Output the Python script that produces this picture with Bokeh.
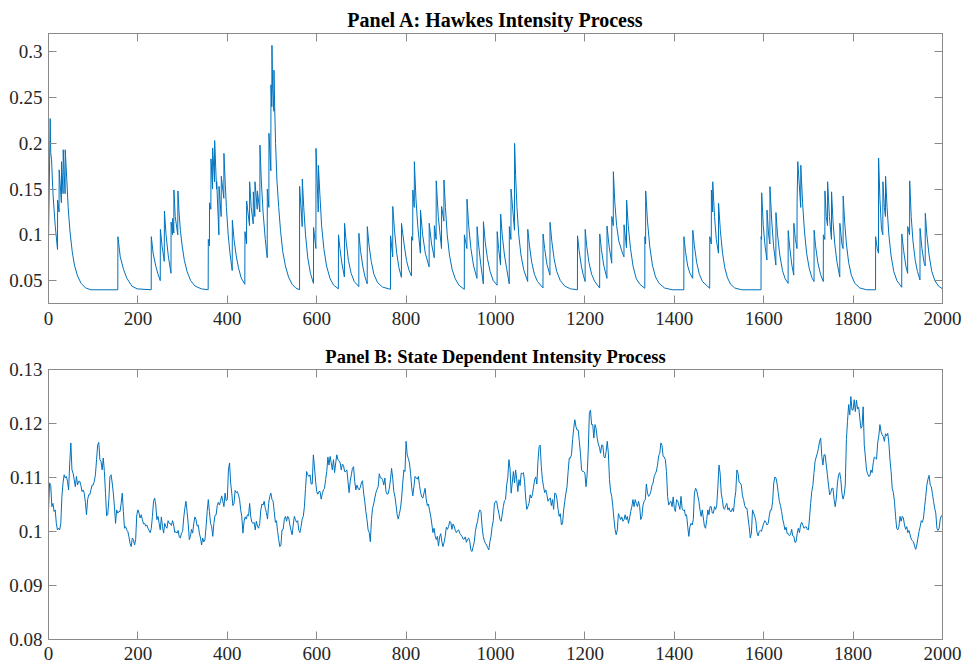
from bokeh.plotting import figure
from bokeh.models import Range1d, LinearAxis, FixedTicker, NumeralTickFormatter
from bokeh.layouts import column
from bokeh.embed import file_html
from bokeh.resources import INLINE

# ---------------- Panel A: Hawkes intensity (time, intensity)
hawkes_t = [
    0, 3.8, 5, 6.8, 10, 15, 20.2, 20.4, 23.6, 23.9, 28.9, 29.2, 32.6, 32.9, 37.1, 37.4, 41, 44, 48, 53, 58, 65, 73, 83, 95, 155,
    155.3, 160.5, 168, 175.4, 186.6, 198, 229.8, 230, 234, 240, 245, 250, 250.3, 254, 259, 259.3, 263, 268, 274, 274.3, 277.5, 277.8,
    280.3, 280.6, 283.5, 289.2, 289.5, 292, 295, 299, 304, 310, 318, 328, 342, 357.2,
    357.5, 360, 360.3, 363.2, 363.5, 367, 367.2, 371.4, 371.7, 376, 376.3, 381.2, 381.5, 386.3, 386.6, 392.2, 392.5, 395, 398, 402,
    406, 411, 411.3, 415, 420, 425, 431, 439.2, 439.5, 443, 443.3, 449.7, 450, 453.5, 458, 458.2, 461.6, 461.9, 467, 467.3, 472.8,
    473.1, 476, 480, 485, 489.3, 489.5, 493, 493.2, 497.4, 497.7, 499.6, 499.9, 501.5, 504.1, 504.4, 506, 508, 511, 515, 519, 524,
    530, 537, 545, 553, 561.6,
    561.8, 567.6, 567.8, 571, 575, 580, 586, 592.8, 593, 598.2,
    598.5, 603.5, 603.8, 607, 611, 616, 622, 630, 638, 648.5,
    648.7, 652, 656, 662, 662.3, 666, 671, 677, 684, 694.2,
    694.4, 698, 703, 708, 713, 713.2, 717, 722, 728, 736,
    747, 765, 765.3, 770, 770.2, 774, 779, 784, 789.5, 789.7,
    796, 801, 806, 812, 812.2, 814.8, 815, 818.3, 818.5, 822,
    826, 832, 832.2, 837, 843, 851.5, 851.7, 857, 863, 863.2,
    867.2, 867.4, 872, 879.2, 879.4, 884.5, 884.7, 888, 892, 897,
    903, 910, 918, 930.2, 930.4, 936.1, 936.3, 940, 945, 951,
    958.6, 958.8, 962, 967, 972.8, 973, 977, 982, 988, 995,
    1003.6, 1003.8, 1007, 1011.3, 1011.5, 1015, 1020, 1025, 1030.7, 1031,
    1034.5, 1034.8, 1042.5, 1042.7, 1045, 1048, 1052, 1057, 1063, 1072,
    1072.2, 1076, 1081, 1087, 1094, 1106.2, 1106.4, 1110, 1115, 1121.8,
    1122, 1126, 1131, 1137, 1145, 1155, 1168, 1183.3,
    1183.5, 1187, 1192, 1196, 1200.5, 1200.7, 1204, 1209, 1215, 1222,
    1233, 1233.2, 1237, 1242, 1249.3, 1249.5, 1254, 1260, 1260.2, 1263.5,
    1263.7, 1267, 1271, 1276, 1284, 1287.4, 1287.6, 1293, 1293.3, 1297,
    1302, 1308, 1315, 1323, 1334, 1334.2, 1335.8, 1336, 1340, 1345,
    1351, 1358, 1366, 1378, 1395, 1421.3, 1421.5, 1425, 1430, 1435,
    1441.2, 1441.4, 1445, 1450, 1456, 1463, 1479.2, 1479.4, 1482.8, 1483,
    1485.8, 1486, 1490, 1494, 1498.8, 1499, 1503, 1508, 1513, 1519,
    1526, 1535, 1550, 1594,
    1594.2, 1595.3, 1595.5, 1599, 1603, 1607.2, 1607.4, 1611, 1613.8, 1614,
    1618, 1622, 1627.2, 1627.4, 1631, 1636, 1642, 1648, 1654.6, 1654.8,
    1658, 1663, 1667.2, 1667.4, 1671, 1674.5, 1674.7, 1676.3, 1682.8, 1683,
    1687, 1691, 1696, 1702, 1708, 1712.6, 1712.8, 1716, 1721, 1727,
    1733.3, 1733.5, 1736.8, 1737, 1740, 1742.8, 1743, 1747, 1751.6, 1751.8,
    1755, 1759, 1764, 1770.2, 1770.4, 1775, 1777.6, 1777.8, 1781, 1785,
    1790, 1796, 1804, 1815, 1830, 1850.2, 1850.4, 1854, 1856.8, 1857,
    1860, 1863.5, 1866.5, 1866.7, 1870, 1872.4, 1872.6, 1876, 1880, 1885,
    1891, 1898, 1908.8, 1909, 1913, 1918, 1922, 1922.2, 1926.4, 1926.6,
    1930, 1934, 1939, 1944, 1949.6, 1949.8, 1954, 1959, 1961.3, 1961.5,
    1965, 1970, 1976, 1983, 1991, 2000,
]
hawkes_y = [
    0.095, 0.227, 0.19, 0.182, 0.145, 0.11, 0.084, 0.138, 0.125, 0.171, 0.135, 0.18, 0.145, 0.193, 0.145, 0.193, 0.16, 0.13, 0.104,
    0.082, 0.067, 0.055, 0.047, 0.042, 0.04, 0.04,
    0.098, 0.076, 0.062, 0.0525, 0.044, 0.041, 0.04, 0.098, 0.08, 0.066, 0.057, 0.05, 0.106, 0.088, 0.071, 0.126, 0.1, 0.077, 0.058,
    0.114, 0.1, 0.118, 0.102, 0.149, 0.12, 0.1, 0.148, 0.125, 0.105, 0.088, 0.072, 0.06, 0.05, 0.044, 0.041, 0.04,
    0.095, 0.088, 0.135, 0.128, 0.183, 0.15, 0.195, 0.158, 0.203, 0.15, 0.158, 0.1, 0.153, 0.12, 0.164, 0.14, 0.189, 0.16, 0.13, 0.1,
    0.08, 0.061, 0.116, 0.095, 0.077, 0.064, 0.053, 0.046, 0.1035, 0.09, 0.137, 0.11, 0.158, 0.13, 0.112, 0.147, 0.12, 0.158, 0.128,
    0.148, 0.125, 0.198, 0.16, 0.125, 0.095, 0.075, 0.15, 0.13, 0.211, 0.17, 0.264, 0.24, 0.307, 0.26, 0.235, 0.28, 0.24, 0.2, 0.16,
    0.13, 0.105, 0.082, 0.066, 0.054, 0.046, 0.042, 0.04,
    0.153, 0.109, 0.161, 0.13, 0.1, 0.075, 0.058, 0.047, 0.108, 0.085,
    0.1945, 0.125, 0.176, 0.145, 0.11, 0.085, 0.066, 0.052, 0.045, 0.041,
    0.1, 0.085, 0.07, 0.054, 0.1126, 0.092, 0.072, 0.058, 0.049, 0.0434,
    0.1017, 0.083, 0.066, 0.054, 0.0465, 0.109, 0.089, 0.071, 0.057, 0.048,
    0.043, 0.0405, 0.099, 0.076, 0.131, 0.105, 0.08, 0.064, 0.0536, 0.1126,
    0.088, 0.072, 0.062, 0.055, 0.098, 0.094, 0.149, 0.13, 0.18, 0.14,
    0.11, 0.08, 0.127, 0.1, 0.08, 0.065, 0.1126, 0.09, 0.075, 0.11,
    0.095, 0.159, 0.12, 0.085, 0.131, 0.115, 0.16, 0.13, 0.1, 0.078,
    0.062, 0.052, 0.045, 0.0405, 0.1, 0.085, 0.139, 0.11, 0.085, 0.066,
    0.0525, 0.109, 0.09, 0.068, 0.0465, 0.1144, 0.092, 0.074, 0.06, 0.05,
    0.045, 0.1035, 0.085, 0.067, 0.1228, 0.1, 0.078, 0.063, 0.0465, 0.109,
    0.095, 0.15, 0.105, 0.2, 0.165, 0.13, 0.1, 0.078, 0.062, 0.049,
    0.106, 0.088, 0.07, 0.057, 0.049, 0.042, 0.101, 0.085, 0.068, 0.056,
    0.1137, 0.093, 0.074, 0.06, 0.05, 0.044, 0.041, 0.04,
    0.099, 0.083, 0.066, 0.057, 0.049, 0.106, 0.088, 0.07, 0.057, 0.049,
    0.042, 0.101, 0.084, 0.067, 0.0525, 0.1097, 0.088, 0.069, 0.12, 0.11,
    0.169, 0.135, 0.11, 0.093, 0.08, 0.076, 0.111, 0.086, 0.138, 0.11,
    0.085, 0.065, 0.052, 0.046, 0.0416, 0.098, 0.09, 0.148, 0.115, 0.088,
    0.067, 0.054, 0.047, 0.042, 0.04, 0.04, 0.098, 0.082, 0.066, 0.058,
    0.0525, 0.105, 0.088, 0.07, 0.057, 0.049, 0.0416, 0.098, 0.09, 0.149,
    0.125, 0.158, 0.12, 0.095, 0.08, 0.1345, 0.105, 0.08, 0.064, 0.053,
    0.046, 0.042, 0.04, 0.04,
    0.098, 0.095, 0.146, 0.11, 0.088, 0.0726, 0.127, 0.1, 0.09, 0.1527,
    0.115, 0.088, 0.067, 0.1243, 0.1, 0.078, 0.061, 0.052, 0.047, 0.1046,
    0.087, 0.067, 0.056, 0.1126, 0.095, 0.085, 0.135, 0.18, 0.13, 0.176,
    0.135, 0.105, 0.08, 0.063, 0.053, 0.049, 0.105, 0.088, 0.07, 0.057,
    0.049, 0.1, 0.095, 0.148, 0.12, 0.11, 0.158, 0.12, 0.095, 0.147,
    0.115, 0.09, 0.07, 0.054, 0.1126, 0.09, 0.085, 0.1425, 0.115, 0.09,
    0.07, 0.056, 0.047, 0.042, 0.04, 0.04, 0.098, 0.085, 0.08, 0.184,
    0.14, 0.106, 0.1, 0.158, 0.13, 0.12, 0.164, 0.13, 0.1, 0.077,
    0.06, 0.05, 0.0427, 0.101, 0.083, 0.066, 0.058, 0.109, 0.1, 0.159,
    0.12, 0.093, 0.072, 0.06, 0.0507, 0.107, 0.085, 0.069, 0.066, 0.1235,
    0.1, 0.078, 0.06, 0.05, 0.044, 0.041,
]

# ---------------- Panel B: state dependent intensity
# values read at t = 0, 5, 10, ..., 2000
state_grid_y = [
    0.1040, 0.1085, 0.1052, 0.1040, 0.1003, 0.1003, 0.1065, 0.1105, 0.1102, 0.1077,
    0.1164, 0.1108, 0.1083, 0.1086, 0.1093, 0.1074, 0.1071, 0.1031, 0.1068, 0.1077,
    0.1086, 0.1105, 0.1160, 0.1133, 0.1114, 0.1111, 0.1029, 0.1059, 0.1105, 0.1071,
    0.1015, 0.1034, 0.1037, 0.1071, 0.1006, 0.1003, 0.0990, 0.0972, 0.0985, 0.0985,
    0.1040, 0.1025, 0.1022, 0.1015, 0.1012, 0.1002, 0.1006, 0.1056, 0.1049, 0.1028,
    0.1003, 0.1009, 0.1015, 0.1006, 0.1015, 0.1011, 0.1012, 0.1000, 0.1002, 0.0988,
    0.1000, 0.1043, 0.1037, 0.0985, 0.1004, 0.1015, 0.1022, 0.1012, 0.0988, 0.0988,
    0.0985, 0.1037, 0.1037, 0.1009, 0.1015, 0.1031, 0.1054, 0.1057, 0.1056, 0.1071,
    0.1059, 0.1127, 0.1071, 0.1052, 0.1072, 0.1068, 0.1040, 0.0997, 0.1027, 0.1031,
    0.1052, 0.1017, 0.1017, 0.1019, 0.1006, 0.1040, 0.1049, 0.1043, 0.1023, 0.1065,
    0.1059, 0.1037, 0.1020, 0.0985, 0.0975, 0.1004, 0.1028, 0.1028, 0.1012, 0.0994,
    0.1028, 0.1017, 0.1002, 0.1009, 0.1028, 0.1080, 0.1105, 0.1105, 0.1088, 0.1120,
    0.1074, 0.1074, 0.1060, 0.1077, 0.1096, 0.1138, 0.1139, 0.1114, 0.1109, 0.1142,
    0.1131, 0.1114, 0.1122, 0.1111, 0.1093, 0.1093, 0.1117, 0.1093, 0.1086, 0.1077,
    0.1090, 0.1071, 0.1037, 0.1003, 0.0981, 0.1043, 0.1062, 0.1078, 0.1107, 0.1099,
    0.1086, 0.1074, 0.1070, 0.1096, 0.1099, 0.1065, 0.1031, 0.1033, 0.1062, 0.1114,
    0.1167, 0.1135, 0.1108, 0.1066, 0.1102, 0.1097, 0.1085, 0.1064, 0.1071, 0.1060,
    0.1051, 0.1029, 0.0998, 0.0992, 0.0991, 0.0990, 0.0981, 0.0980, 0.1008, 0.1009,
    0.1017, 0.1014, 0.1002, 0.1002, 0.0997, 0.0991, 0.0986, 0.0980, 0.0988, 0.0965,
    0.0972, 0.1000, 0.1019, 0.1040, 0.1009, 0.0983, 0.0975, 0.0966, 0.0991, 0.1020,
    0.1056, 0.1043, 0.1022, 0.1031, 0.1057, 0.1086, 0.1133, 0.1071, 0.1111, 0.1114,
    0.1074, 0.1085, 0.1107, 0.1093, 0.1041, 0.1052, 0.1062, 0.1082, 0.1101, 0.1130,
    0.1160, 0.1096, 0.1072, 0.1068, 0.1060, 0.1048, 0.1041, 0.1070, 0.1041, 0.1033,
    0.1015, 0.1056, 0.1083, 0.1136, 0.1142, 0.1191, 0.1194, 0.1188, 0.1145, 0.1111,
    0.1108, 0.1105, 0.1219, 0.1198, 0.1173, 0.1191, 0.1162, 0.1145, 0.1160, 0.1136,
    0.1167, 0.1096, 0.1065, 0.1023, 0.0994, 0.1033, 0.1022, 0.1019, 0.1031, 0.1028,
    0.1025, 0.1046, 0.1046, 0.1052, 0.1056, 0.1022, 0.1049, 0.1059, 0.1071, 0.1068,
    0.1085, 0.1102, 0.1112, 0.1140, 0.1164, 0.1139, 0.1133, 0.1065, 0.1054, 0.1046,
    0.1043, 0.1059, 0.1049, 0.1065, 0.1039, 0.1029, 0.1009, 0.1009, 0.1012, 0.1071,
    0.1077, 0.1056, 0.1028, 0.1025, 0.1006, 0.1040, 0.1046, 0.1034, 0.1046, 0.1049,
    0.1123, 0.1071, 0.1043, 0.1048, 0.1040, 0.1037, 0.1043, 0.1059, 0.1114, 0.1091,
    0.1086, 0.1059, 0.1043, 0.1025, 0.0988, 0.1040, 0.1028, 0.0998, 0.1000, 0.1000,
    0.1015, 0.1017, 0.1015, 0.1040, 0.1056, 0.1101, 0.1088, 0.1056, 0.1037, 0.1014,
    0.1008, 0.0996, 0.0994, 0.0992, 0.0980, 0.0997, 0.0998, 0.1017, 0.1006, 0.1009,
    0.1003, 0.1052, 0.1085, 0.1130, 0.1145, 0.1167, 0.1139, 0.1142, 0.1123, 0.1086,
    0.1072, 0.1080, 0.1046, 0.1090, 0.1109, 0.1071, 0.1068, 0.1170, 0.1235, 0.1250,
    0.1225, 0.1222, 0.1227, 0.1210, 0.1194, 0.1160, 0.1114, 0.1102, 0.1114, 0.1127,
    0.1136, 0.1164, 0.1198, 0.1179, 0.1167, 0.1177, 0.1164, 0.1111, 0.1072, 0.1028,
    0.1003, 0.1028, 0.1028, 0.1012, 0.1009, 0.1002, 0.0986, 0.0981, 0.0967, 0.0988,
    0.1009, 0.1017, 0.1046, 0.1086, 0.1104, 0.1083, 0.1056, 0.1034, 0.1002, 0.1023,
    0.1031,
]
# values read at t = 2.5, 7.5, ..., 1997.5
state_mid_y = [
    0.1090, 0.1046, 0.1037, 0.1015, 0.1006, 0.1015, 0.1090, 0.1099, 0.1093, 0.1127,
    0.1114, 0.1096, 0.1102, 0.1093, 0.1085, 0.1077, 0.1054, 0.1059, 0.1068, 0.1086,
    0.1093, 0.1133, 0.1165, 0.1130, 0.1136, 0.1071, 0.1031, 0.1102, 0.1090, 0.1046,
    0.1040, 0.1037, 0.1052, 0.1037, 0.1009, 0.1000, 0.0978, 0.0988, 0.0975, 0.1031,
    0.1034, 0.1031, 0.1014, 0.1010, 0.1006, 0.0998, 0.1028, 0.1062, 0.1022, 0.1015,
    0.1027, 0.0997, 0.1009, 0.1020, 0.1015, 0.1020, 0.0998, 0.0997, 0.0990, 0.0997,
    0.1025, 0.1056, 0.1015, 0.0991, 0.0997, 0.1027, 0.1010, 0.0997, 0.0975, 0.0981,
    0.1009, 0.1059, 0.1015, 0.0991, 0.1030, 0.1048, 0.1049, 0.1066, 0.1046, 0.1057,
    0.1114, 0.1090, 0.1048, 0.1076, 0.1074, 0.1059, 0.1027, 0.1019, 0.1023, 0.1029,
    0.1027, 0.1015, 0.1003, 0.1010, 0.1015, 0.1051, 0.1056, 0.1035, 0.1052, 0.1071,
    0.1056, 0.1017, 0.1000, 0.0972, 0.1003, 0.1022, 0.1019, 0.1025, 0.1002, 0.1012,
    0.1022, 0.1020, 0.0998, 0.1023, 0.1046, 0.1111, 0.1102, 0.1088, 0.1142, 0.1093,
    0.1069, 0.1074, 0.1070, 0.1080, 0.1111, 0.1123, 0.1127, 0.1133, 0.1127, 0.1133,
    0.1127, 0.1125, 0.1111, 0.1114, 0.1072, 0.1105, 0.1120, 0.1077, 0.1080, 0.1082,
    0.1094, 0.1056, 0.1022, 0.0998, 0.1022, 0.1051, 0.1072, 0.1083, 0.1099, 0.1096,
    0.1099, 0.1069, 0.1080, 0.1117, 0.1074, 0.1049, 0.1023, 0.1043, 0.1090, 0.1111,
    0.1142, 0.1127, 0.1082, 0.1083, 0.1099, 0.1102, 0.1072, 0.1062, 0.1080, 0.1048,
    0.1039, 0.1014, 0.1006, 0.0985, 0.0973, 0.0996, 0.0972, 0.0991, 0.1004, 0.1019,
    0.1004, 0.1010, 0.0998, 0.1003, 0.0994, 0.0986, 0.0990, 0.0986, 0.0981, 0.0963,
    0.0981, 0.1012, 0.1034, 0.1037, 0.0991, 0.0978, 0.0970, 0.0981, 0.1009, 0.1051,
    0.1056, 0.1034, 0.1019, 0.1046, 0.1059, 0.1100, 0.1117, 0.1090, 0.1090, 0.1096,
    0.1096, 0.1108, 0.1109, 0.1062, 0.1046, 0.1068, 0.1068, 0.1096, 0.1088, 0.1157,
    0.1120, 0.1083, 0.1077, 0.1056, 0.1062, 0.1059, 0.1071, 0.1060, 0.1028, 0.1012,
    0.1040, 0.1071, 0.1111, 0.1136, 0.1170, 0.1207, 0.1188, 0.1167, 0.1114, 0.1111,
    0.1083, 0.1151, 0.1225, 0.1198, 0.1198, 0.1173, 0.1156, 0.1160, 0.1139, 0.1148,
    0.1145, 0.1074, 0.1046, 0.1004, 0.1003, 0.1028, 0.1027, 0.1022, 0.1022, 0.1015,
    0.1037, 0.1059, 0.1059, 0.1046, 0.1046, 0.1028, 0.1056, 0.1088, 0.1065, 0.1074,
    0.1090, 0.1107, 0.1123, 0.1145, 0.1159, 0.1138, 0.1111, 0.1049, 0.1056, 0.1064,
    0.1037, 0.1057, 0.1041, 0.1043, 0.1040, 0.1031, 0.0991, 0.1015, 0.1022, 0.1080,
    0.1066, 0.1040, 0.1040, 0.1009, 0.1022, 0.1031, 0.1046, 0.1034, 0.1041, 0.1083,
    0.1108, 0.1059, 0.1041, 0.1052, 0.1044, 0.1037, 0.1037, 0.1074, 0.1108, 0.1090,
    0.1066, 0.1048, 0.1043, 0.1009, 0.0997, 0.1034, 0.1019, 0.0992, 0.1002, 0.1008,
    0.1020, 0.1012, 0.1029, 0.1040, 0.1090, 0.1099, 0.1072, 0.1048, 0.1023, 0.1003,
    0.0996, 0.0992, 0.1004, 0.0991, 0.0981, 0.1006, 0.1012, 0.1012, 0.1008, 0.1004,
    0.1025, 0.1074, 0.1109, 0.1138, 0.1154, 0.1173, 0.1123, 0.1142, 0.1105, 0.1068,
    0.1080, 0.1059, 0.1062, 0.1105, 0.1096, 0.1060, 0.1086, 0.1204, 0.1216, 0.1225,
    0.1244, 0.1243, 0.1230, 0.1191, 0.1231, 0.1138, 0.1107, 0.1103, 0.1109, 0.1138,
    0.1134, 0.1177, 0.1185, 0.1176, 0.1181, 0.1182, 0.1133, 0.1080, 0.1056, 0.1006,
    0.1009, 0.1019, 0.1025, 0.1004, 0.0998, 0.0994, 0.0983, 0.0973, 0.0975, 0.1000,
    0.1020, 0.1025, 0.1065, 0.1097, 0.1086, 0.1070, 0.1043, 0.1006, 0.1006, 0.1029,
]

x_ticks = [0, 200, 400, 600, 800, 1000, 1200, 1400, 1600, 1800, 2000]
a_ticks = [0.05, 0.1, 0.15, 0.2, 0.25, 0.3]
b_ticks = [0.08, 0.09, 0.1, 0.11, 0.12, 0.13]

assert len(hawkes_t) == len(hawkes_y), (len(hawkes_t), len(hawkes_y))
assert len(state_grid_y) == 401 and len(state_mid_y) == 400, (len(state_grid_y), len(state_mid_y))

# interleave the two sets of readings into one time-ordered series
state_t, state_y = [], []
for i, v in enumerate(state_mid_y):
    state_t += [5 * i, 5 * i + 2.5]
    state_y += [state_grid_y[i], v]
state_t.append(2000)
state_y.append(state_grid_y[-1])

AX = "#8a8a8a"
FONT = "Liberation Serif"
LINE = "#0072BD"


def style(ax, ticks, fmt=None, labels=True, standoff=6):
    ax.ticker = FixedTicker(ticks=ticks)
    ax.axis_line_color = AX
    ax.major_tick_line_color = AX
    ax.major_tick_in = 8
    ax.major_tick_out = 0
    ax.minor_tick_line_color = None
    ax.major_label_text_font = FONT
    ax.major_label_text_color = "#262626"
    if fmt:
        ax.formatter = NumeralTickFormatter(format=fmt)
    if labels:
        ax.major_label_text_font_size = "19px"
        ax.major_label_standoff = standoff
    else:
        ax.major_label_text_color = None
        ax.major_label_text_font_size = "1px"
        ax.major_label_standoff = 0


def make_panel(title, tsize, xs, ys, yr, yticks, height, top, bottom, xstand):
    p = figure(width=962, height=height, output_backend="svg", toolbar_location=None,
               x_range=Range1d(0, 2000), y_range=Range1d(*yr),
               min_border_left=48, min_border_right=20,
               min_border_top=top, min_border_bottom=bottom)
    p.title.text = title
    p.title.align = "center"
    p.title.text_font = FONT
    p.title.text_font_style = "bold"
    p.title.text_font_size = tsize
    p.title.text_color = "#000000"
    p.title.standoff = 5
    p.grid.visible = False
    p.outline_line_color = AX
    p.background_fill_color = "white"
    p.border_fill_color = "white"
    style(p.xaxis[0], x_ticks, standoff=xstand)
    style(p.yaxis[0], yticks, fmt="0.[00]")
    top_ax = LinearAxis()
    style(top_ax, x_ticks, labels=False)
    p.add_layout(top_ax, "above")
    right_ax = LinearAxis()
    style(right_ax, yticks, labels=False)
    p.add_layout(right_ax, "right")
    p.line(xs, ys, line_color=LINE, line_width=1)
    return p


pa = make_panel("Panel A: Hawkes Intensity Process", "20px", hawkes_t, hawkes_y,
                (0.025, 0.32), a_ticks, 336, 33, 33, 8)
pb = make_panel("Panel B: State Dependent Intensity Process", "18.5px", state_t, state_y,
                (0.08, 0.13), b_ticks, 332, 33, 29, 7)

layout = column(pa, pb)
open("out.html", "w").write(file_html(layout, INLINE))
